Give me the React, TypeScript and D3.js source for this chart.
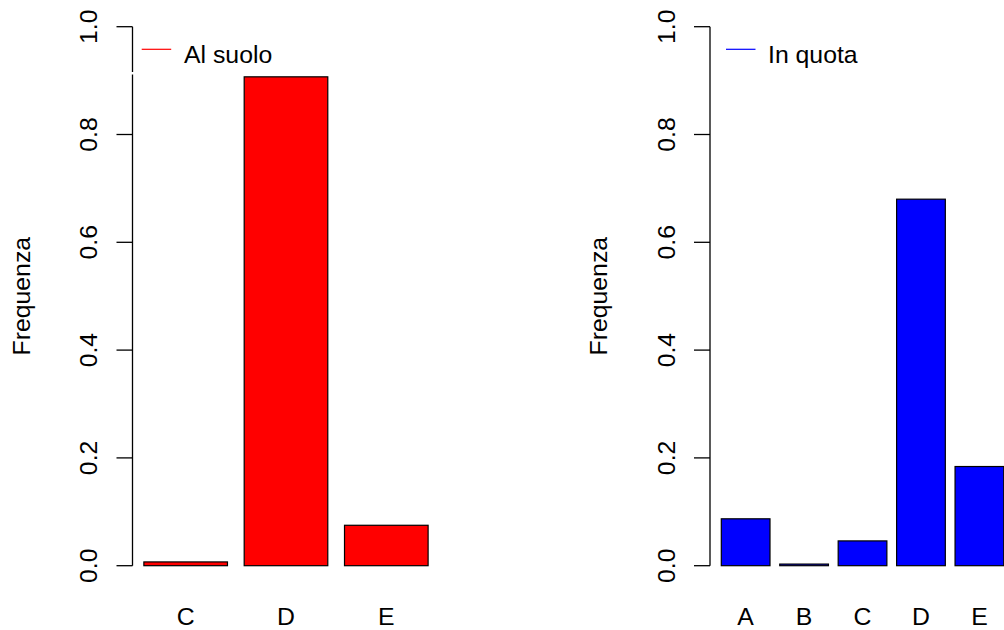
import React from "react";
import * as d3 from "d3";

// Relative frequencies of stability classes, ground level vs. elevated sources
const groundCats = ["C", "D", "E"];
const groundFreq = [0.007, 0.907, 0.075];
const elevCats = ["A", "B", "C", "D", "E"];
const elevFreq = [0.087, 0.003, 0.046, 0.68, 0.184];
const yTicks = [0, 0.2, 0.4, 0.6, 0.8, 1.0];
const yTitle = "Frequenza";
const groundLegend = "Al suolo";
const elevLegend = "In quota";

const W = 1004;
const H = 630;
const FONT = "'Liberation Sans', Arial, Helvetica, sans-serif";
const FS = 24.8;

type PanelProps = {
  cats: string[];
  vals: number[];
  color: string;
  legend: string;
  axisX: number;
  unit: number;
  legendLineX: number;
  legendTextX: number;
  boxGap?: boolean;
};

function Panel({ cats, vals, color, legend, axisX, unit, legendLineX, legendTextX, boxGap }: PanelProps) {
  const space = 0.2;
  const lefts = cats.map((_, i) => space + i * (1 + space));
  const lo = d3.min(lefts)!;
  const hi = d3.max(lefts)! + 1;
  const pad = (hi - lo) * 0.04;
  const dom: [number, number] = [lo - pad, hi + pad];
  const x = d3.scaleLinear().domain(dom).range([axisX, axisX + (dom[1] - dom[0]) * unit]);
  const y = d3.scaleLinear().domain([0, 1]).range([565.7, 26.7]);
  const tickLen = 16;
  const fmt = d3.format(".1f");

  return (
    <g>
      {/* bars */}
      {vals.map((v, i) => (
        <rect
          key={cats[i]}
          x={x(lefts[i])}
          y={y(v)}
          width={x(lefts[i] + 1) - x(lefts[i])}
          height={y(0) - y(v)}
          fill={color}
          stroke="#000"
          strokeWidth={1.2}
        />
      ))}
      {/* category labels */}
      {cats.map((c, i) => (
        <text
          key={"l" + c}
          x={x(lefts[i] + 0.5)}
          y={625}
          textAnchor="middle"
          fontFamily={FONT}
          fontSize={FS}
          fill="#000"
        >
          {c}
        </text>
      ))}
      {/* y axis */}
      <line x1={axisX} x2={axisX} y1={y(0)} y2={y(1)} stroke="#000" strokeWidth={1.3} />
      {yTicks.map((t) => (
        <g key={t}>
          <line x1={axisX - tickLen} x2={axisX} y1={y(t)} y2={y(t)} stroke="#000" strokeWidth={1.3} />
          <text
            transform={`translate(${axisX - 35.5},${y(t)}) rotate(-90)`}
            textAnchor="middle"
            fontFamily={FONT}
            fontSize={FS}
            fill="#000"
          >
            {fmt(t)}
          </text>
        </g>
      ))}
      <text
        transform={`translate(${axisX - 103},${(y(0) + y(1)) / 2}) rotate(-90)`}
        textAnchor="middle"
        fontFamily={FONT}
        fontSize={FS}
        fill="#000"
      >
        {yTitle}
      </text>
      {/* legend */}
      {boxGap && (
        <line x1={axisX - 8} x2={axisX + 200} y1={73.3} y2={73.3} stroke="#fff" strokeWidth={2.5} />
      )}
      <line x1={legendLineX} x2={legendLineX + 29.5} y1={49.3} y2={49.3} stroke={color} strokeWidth={1.2} />
      <text x={legendTextX} y={63} fontFamily={FONT} fontSize={FS} fill="#000">
        {legend}
      </text>
    </g>
  );
}

export default function App() {
  return (
    <svg
      width={W}
      height={H}
      viewBox={`0 0 ${W} ${H}`}
      style={{ position: "absolute", left: 0, top: 0, background: "#fff" }}
    >
      <rect width={W} height={H} fill="#fff" />
      <Panel
        cats={groundCats}
        vals={groundFreq}
        color="#ff0000"
        legend={groundLegend}
        axisX={132.5}
        unit={83.6}
        legendLineX={141.7}
        legendTextX={184}
        boxGap
      />
      <Panel
        cats={elevCats}
        vals={elevFreq}
        color="#0000ff"
        legend={elevLegend}
        axisX={710}
        unit={48.7}
        legendLineX={726}
        legendTextX={768}
      />
    </svg>
  );
}
